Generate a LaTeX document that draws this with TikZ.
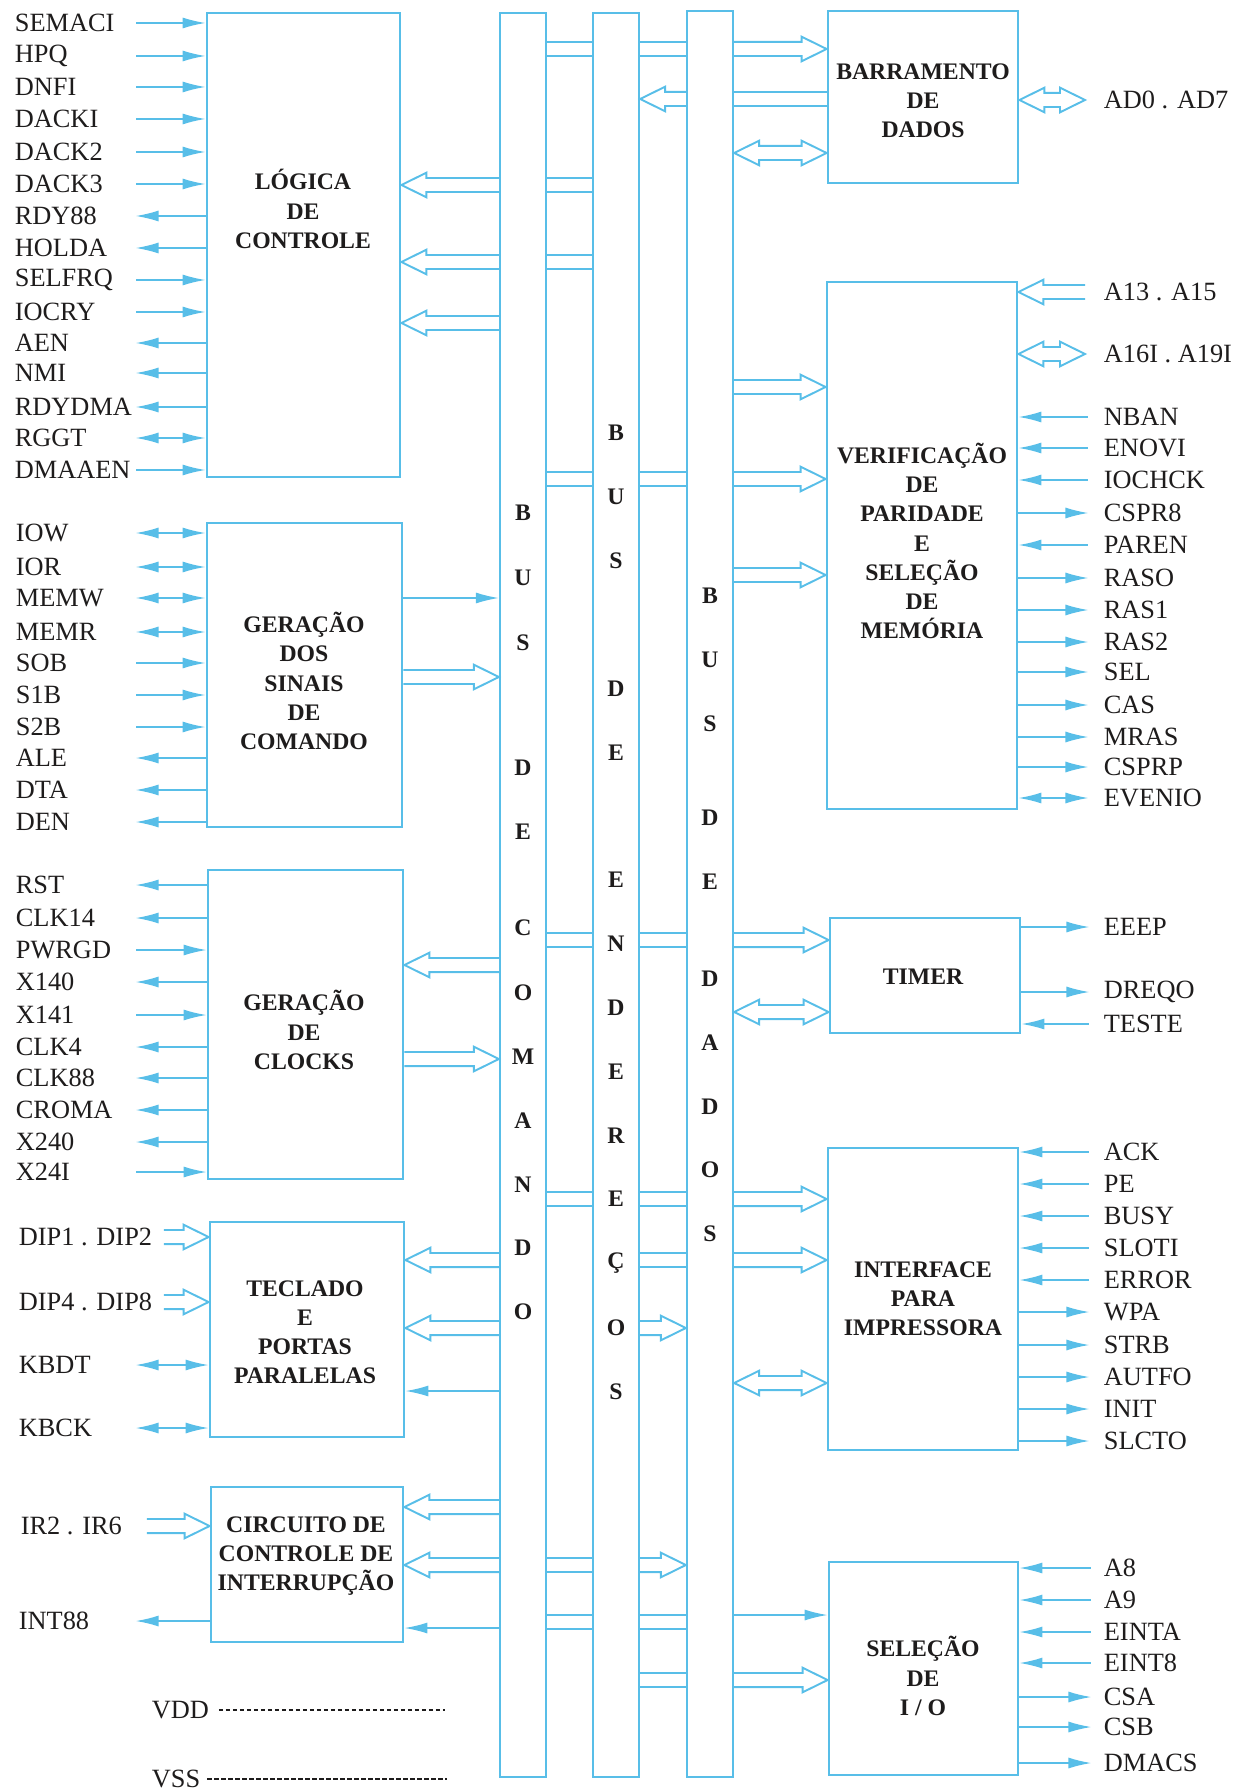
\documentclass[tikz,border=0pt]{standalone}
\usepackage{fontspec}
\setmainfont{Liberation Serif}
\usepackage{tikz}
\usetikzlibrary{arrows.meta, calc, fit, }

\definecolor{linha}{RGB}{88,190,232}
\definecolor{tinta}{RGB}{30,28,28}

\tikzset{
  bloco/.style={draw=linha, line width=1.6pt, inner sep=0pt},
  barra/.style={draw=linha, line width=1.3pt, inner sep=0pt},
  txtbloco/.style={font=\bfseries\fontsize{13.5}{16.6}\selectfont, align=center, text=tinta},
  letra/.style={font=\bfseries\fontsize{13.5}{16}\selectfont, text=tinta},
  sinal/.style={font=\fontsize{15}{18}\selectfont, text=tinta, inner sep=2pt},
  fio/.style={draw=linha, line width=0.9pt},
  sigin/.style={fio, {Latex[length=0.46cm,width=0.22cm]}-},
  sigout/.style={fio, -{Latex[length=0.46cm,width=0.22cm]}},
  sigio/.style={fio, {Latex[length=0.46cm,width=0.22cm]}-{Latex[length=0.46cm,width=0.22cm]}},
  gordo/.style={draw=linha, line width=1.1pt},
}

% seta larga (vazada) de #1 para #2 na altura #3
\newcommand{\setagorda}[3]{%
  \draw[gordo] let \p1=(#1 |- 0,#3), \p2=(#2 |- 0,#3), \p3=($(\p2)!0.5cm!(\p1)$) in
    (\x1,\y1+4pt) -- (\x3,\y3+4pt) -- (\x3,\y3+7pt) -- (\p2)
    -- (\x3,\y3-7pt) -- (\x3,\y3-4pt) -- (\x1,\y1-4pt);}
% seta larga nos dois sentidos
\newcommand{\setadupla}[3]{%
  \draw[gordo] let \p1=(#1 |- 0,#3), \p2=(#2 |- 0,#3), \p3=($(\p2)!0.5cm!(\p1)$),
    \p4=($(\p1)!0.5cm!(\p2)$) in
    (\x4,\y4+4pt) -- (\x3,\y3+4pt) -- (\x3,\y3+7pt) -- (\p2)
    -- (\x3,\y3-7pt) -- (\x3,\y3-4pt) -- (\x4,\y4-4pt) -- (\x4,\y4-7pt) -- (\p1)
    -- (\x4,\y4+7pt) -- cycle;}
% ligacao entre barramentos
\newcommand{\ligacao}[3]{%
  \draw[gordo] let \p1=(#1 |- 0,#3), \p2=(#2 |- 0,#3) in
    (\x1,\y1+4pt) -- (\x2,\y2+4pt) (\x1,\y1-4pt) -- (\x2,\y2-4pt);}

\begin{document}
\begin{tikzpicture}[x=0.02cm, y=-0.02cm]
    \useasboundingbox (0,0) rectangle (1247,1790);

    % blocos da esquerda
    \node[bloco, fit={(207,13) (400,477)}] (ctl) {};
    \node[txtbloco] (ctl-t) at (303,209) {LÓGICA\\DE\\CONTROLE};
    \node[bloco, fit={(207,523) (402,827)}] (cmd) {};
    \node[txtbloco] (cmd-t) at (304,681) {GERAÇÃO\\DOS\\SINAIS\\DE\\COMANDO};
    \node[bloco, fit={(208,870) (403,1179)}] (clk) {};
    \node[txtbloco] (clk-t) at (304,1030) {GERAÇÃO\\DE\\CLOCKS};
    \node[bloco, fit={(210,1222) (404,1437)}] (kbd) {};
    \node[txtbloco] (kbd-t) at (305,1332) {TECLADO\\E\\PORTAS\\PARALELAS};
    \node[bloco, fit={(211,1487) (403,1642)}] (irq) {};
    \node[txtbloco] (irq-t) at (306,1556) {CIRCUITO DE\\CONTROLE DE\\INTERRUPÇÃO};

    % blocos da direita
    \node[bloco, fit={(828,11) (1018,183)}] (dat) {};
    \node[txtbloco] (dat-t) at (923,101) {BARRAMENTO\\DE\\DADOS};
    \node[bloco, fit={(827,282) (1017,809)}] (mem) {};
    \node[txtbloco] (mem-t) at (922,541) {VERIFICAÇÃO\\DE\\PARIDADE\\E\\SELEÇÃO\\DE\\MEMÓRIA};
    \node[bloco, fit={(830,918) (1020,1033)}] (tmr) {};
    \node[txtbloco] (tmr-t) at (923,977) {TIMER};
    \node[bloco, fit={(828,1148) (1018,1450)}] (prn) {};
    \node[txtbloco] (prn-t) at (923,1299) {INTERFACE\\PARA\\IMPRESSORA};
    \node[bloco, fit={(829,1562) (1018,1775)}] (ios) {};
    \node[txtbloco] (ios-t) at (923,1676) {SELEÇÃO\\DE\\I / O};

    % os tres barramentos
    \node[barra, fit={(500,13) (546,1777)}] (bcom) {};
    \node[barra, fit={(593,13) (639,1777)}] (bend) {};
    \node[barra, fit={(687,11) (733,1777)}] (bdad) {};
    \foreach \c/\y [count=\i] in {B/513,U/578,S/643,D/768,E/832,C/928,O/993,M/1057,A/1121,N/1185,D/1248,O/1312}
        \node[letra] (lc\i) at (bcom.center |- 0,\y) {\c};
    \foreach \c/\y [count=\i] in {B/433,U/497,S/561,D/689,E/753,E/880,N/944,D/1008,E/1072,R/1136,E/1199,Ç/1263,O/1328,S/1392}
        \node[letra] (le\i) at (bend.center |- 0,\y) {\c};
    \foreach \c/\y [count=\i] in {B/596,U/660,S/724,D/818,E/882,D/979,A/1043,D/1107,O/1170,S/1234}
        \node[letra] (ld\i) at (bdad.center |- 0,\y) {\c};

    % sinais da logica de controle
    \foreach \t/\y/\d [count=\i] in {SEMACI/23/sigin, HPQ/56/sigin, DNFI/87/sigin, DACKI/119/sigin,
        DACK2/152/sigin, DACK3/184/sigin, RDY88/216/sigout, HOLDA/248/sigout, SELFRQ/280/sigin,
        IOCRY/312/sigin, AEN/343/sigout, NMI/373/sigout, RDYDMA/407/sigout, RGGT/438/sigio,
        DMAAEN/470/sigin}{
        \node[sinal, anchor=west] (a\i) at (11,\y) {\t};
        \draw[\d] (ctl.west |- a\i) -- ++(-70,0);
    }
    % sinais de comando
    \foreach \t/\y/\d [count=\i] in {IOW/533/sigio, IOR/567/sigio, MEMW/598/sigio, MEMR/632/sigio,
        SOB/663/sigin, S1B/695/sigin, S2B/727/sigin, ALE/758/sigout, DTA/790/sigout, DEN/822/sigout}{
        \node[sinal, anchor=west] (b\i) at (12,\y) {\t};
        \draw[\d] (cmd.west |- b\i) -- ++(-70,0);
    }
    % clocks
    \foreach \t/\y/\d [count=\i] in {RST/885/sigout, CLK14/918/sigout, PWRGD/950/sigin, X140/982/sigout,
        X141/1015/sigin, CLK4/1047/sigout, CLK88/1078/sigout, CROMA/1110/sigout, X240/1142/sigout,
        X24I/1172/sigin}{
        \node[sinal, anchor=west] (c\i) at (12,\y) {\t};
        \draw[\d] (clk.west |- c\i) -- ++(-71,0);
    }
    % teclado
    \node[sinal, anchor=west] (dip1) at (15,1237) {DIP1 . DIP2};
    \node[sinal, anchor=west] (dip4) at (15,1302) {DIP4 . DIP8};
    \coordinate (dip1-e) at ([xshift=0.16cm]dip1.east);
    \coordinate (dip4-e) at ([xshift=0.16cm]dip4.east);
    \setagorda{dip1-e}{kbd.west}{1237}
    \setagorda{dip4-e}{kbd.west}{1302}
    \node[sinal, anchor=west] (kbdt) at (15,1365) {KBDT};
    \node[sinal, anchor=west] (kbck) at (15,1428) {KBCK};
    \draw[sigio] (kbd.west |- kbdt) -- ++(-73,0);
    \draw[sigio] (kbd.west |- kbck) -- ++(-73,0);
    % interrupcao
    \node[sinal, anchor=west] (ir2) at (17,1526) {IR2 . IR6};
    \coordinate (ir2-e) at ([xshift=0.42cm]ir2.east);
    \setagorda{ir2-e}{irq.west}{1526}
    \node[sinal, anchor=west] (int88) at (15,1621) {INT88};
    \draw[sigout] (irq.west |- int88) -- ++(-74,0);

    \node[sinal, anchor=west] (vdd) at (148,1710) {VDD};
    \node[sinal, anchor=west] (vss) at (148,1779) {VSS};
    \draw[tinta, line width=0.6pt, dash pattern=on 0.09cm off 0.05cm] ([xshift=0.12cm]vdd.east) -- (vdd.east -| 445,0);
    \draw[tinta, line width=0.6pt, dash pattern=on 0.09cm off 0.05cm] ([xshift=0.06cm]vss.east) -- (vss.east -| 447,0);

    % lado direito
    \node[sinal, anchor=west] (ad0) at (1100,100) {AD0 . AD7};
    \coordinate (ad0-w) at ([xshift=-0.3cm]ad0.west);
    \setadupla{dat.east}{ad0-w}{100}
    \node[sinal, anchor=west] (a13) at (1100,292) {A13 . A15};
    \coordinate (a13-w) at ([xshift=-0.3cm]a13.west);
    \setagorda{a13-w}{mem.east}{292}
    \node[sinal, anchor=west] (a16) at (1100,354) {A16I . A19I};
    \coordinate (a16-w) at ([xshift=-0.3cm]a16.west);
    \setadupla{mem.east}{a16-w}{354}
    \foreach \t/\y/\d [count=\i] in {NBAN/417/sigin, ENOVI/448/sigin, IOCHCK/480/sigin, CSPR8/513/sigout,
        PAREN/545/sigin, RASO/578/sigout, RAS1/610/sigout, RAS2/642/sigout, SEL/672/sigout,
        CAS/705/sigout, MRAS/737/sigout, CSPRP/767/sigout, EVENIO/798/sigio}{
        \node[sinal, anchor=west] (m\i) at (1100,\y) {\t};
        \draw[\d] (mem.east |- m\i) -- ++(70,0);
    }
    \foreach \t/\y/\d [count=\i] in {EEEP/927/sigout, DREQO/992/sigout, TESTE/1024/sigin}{
        \node[sinal, anchor=west] (t\i) at (1100,\y) {\t};
        \draw[\d] (tmr.east |- t\i) -- ++(68,0);
    }
    \foreach \t/\y/\d [count=\i] in {ACK/1152/sigin, PE/1184/sigin, BUSY/1216/sigin, SLOTI/1248/sigin,
        ERROR/1280/sigin, WPA/1312/sigout, STRB/1345/sigout, AUTFO/1377/sigout, INIT/1409/sigout,
        SLCTO/1441/sigout}{
        \node[sinal, anchor=west] (p\i) at (1100,\y) {\t};
        \draw[\d] (prn.east |- p\i) -- ++(70,0);
    }
    \foreach \t/\y/\d [count=\i] in {A8/1568/sigin, A9/1600/sigin, EINTA/1632/sigin, EINT8/1663/sigin,
        CSA/1697/sigout, CSB/1727/sigout, DMACS/1763/sigout}{
        \node[sinal, anchor=west] (s\i) at (1100,\y) {\t};
        \draw[\d] (ios.east |- s\i) -- ++(72,0);
    }

    % ligacoes internas
    \ligacao{bcom.east}{bend.west}{49}
    \ligacao{bend.east}{bdad.west}{49}
    \setagorda{bdad.east}{dat.west}{49}
    \setagorda{bdad.west}{bend.east}{99}
    \ligacao{bdad.east}{dat.west}{99}
    \setadupla{bdad.east}{dat.west}{153}

    \setagorda{bcom.west}{ctl.east}{185}
    \ligacao{bcom.east}{bend.west}{185}
    \setagorda{bcom.west}{ctl.east}{262}
    \ligacao{bcom.east}{bend.west}{262}
    \setagorda{bcom.west}{ctl.east}{323}

    \setagorda{bdad.east}{mem.west}{387}
    \ligacao{bcom.east}{bend.west}{479}
    \ligacao{bend.east}{bdad.west}{479}
    \setagorda{bdad.east}{mem.west}{479}
    \setagorda{bdad.east}{mem.west}{575}

    \draw[sigout] (cmd.east |- 0,598) -- (bcom.west |- 0,598);
    \setagorda{cmd.east}{bcom.west}{677}

    \ligacao{bcom.east}{bend.west}{940}
    \ligacao{bend.east}{bdad.west}{940}
    \setagorda{bdad.east}{tmr.west}{940}
    \setadupla{bdad.east}{tmr.west}{1012}
    \setagorda{bcom.west}{clk.east}{965}
    \setagorda{clk.east}{bcom.west}{1059}

    \ligacao{bcom.east}{bend.west}{1199}
    \ligacao{bend.east}{bdad.west}{1199}
    \setagorda{bdad.east}{prn.west}{1199}
    \ligacao{bend.east}{bdad.west}{1260}
    \setagorda{bdad.east}{prn.west}{1260}
    \setadupla{bdad.east}{prn.west}{1383}

    \setagorda{bcom.west}{kbd.east}{1260}
    \setagorda{bcom.west}{kbd.east}{1328}
    \draw[sigout] (bcom.west |- 0,1391) -- (kbd.east |- 0,1391);
    \setagorda{bend.east}{bdad.west}{1328}

    \setagorda{bcom.west}{irq.east}{1507}
    \setagorda{bcom.west}{irq.east}{1565}
    \draw[sigout] (bcom.west |- 0,1628) -- (irq.east |- 0,1628);
    \ligacao{bcom.east}{bend.west}{1565}
    \setagorda{bend.east}{bdad.west}{1565}
    \ligacao{bcom.east}{bend.west}{1622}
    \ligacao{bend.east}{bdad.west}{1622}
    \draw[sigout] (bdad.east |- 0,1615) -- (ios.west |- 0,1615);
    \ligacao{bend.east}{bdad.west}{1680}
    \setagorda{bdad.east}{ios.west}{1680}

\end{tikzpicture}
\end{document}
